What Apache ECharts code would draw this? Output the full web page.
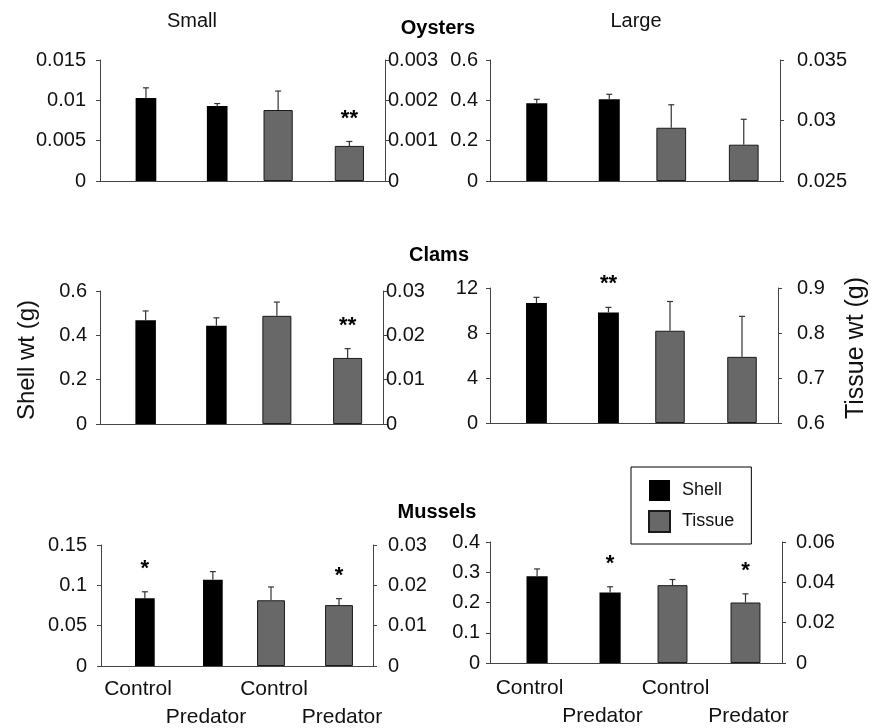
<!DOCTYPE html>
<html>
<head>
<meta charset="utf-8">
<script src="https://cdn.jsdelivr.net/npm/echarts@6/dist/echarts.min.js"></script>
<style>
  html, body { margin: 0; padding: 0; background: #fff; }
  #chart { width: 883px; height: 728px; }
</style>
</head>
<body>
<div id="chart"></div>
<script>
// ---- data -------------------------------------------------------------
const categories = ['Control', 'Predator', 'Control', 'Predator'];
const seriesNames = ['Shell', 'Tissue'];

// Oysters, small size class
const oystersSmallShell = [0.0103, 0.0093];
const oystersSmallShellErr = [0.00125, 0.0003];
const oystersSmallTissue = [0.00176, 0.00087];
const oystersSmallTissueErr = [0.00047, 0.00011];
const oystersSmallSig = ['', '', '', '**'];
const oystersSmallShellAxis = [0, 0.015, 0.005];
const oystersSmallTissueAxis = [0, 0.003, 0.001];

// Oysters, large size class
const oystersLargeShell = [0.385, 0.405];
const oystersLargeShellErr = [0.02, 0.025];
const oystersLargeTissue = [0.0294, 0.0280];
const oystersLargeTissueErr = [0.0019, 0.0021];
const oystersLargeSig = ['', '', '', ''];
const oystersLargeShellAxis = [0, 0.6, 0.2];
const oystersLargeTissueAxis = [0.025, 0.035, 0.005];

// Clams, small size class
const clamsSmallShell = [0.468, 0.443];
const clamsSmallShellErr = [0.042, 0.036];
const clamsSmallTissue = [0.0244, 0.0149];
const clamsSmallTissueErr = [0.0031, 0.0021];
const clamsSmallSig = ['', '', '', '**'];
const clamsSmallShellAxis = [0, 0.6, 0.2];
const clamsSmallTissueAxis = [0, 0.03, 0.01];

// Clams, large size class
const clamsLargeShell = [10.67, 9.83];
const clamsLargeShellErr = [0.5, 0.45];
const clamsLargeTissue = [0.805, 0.747];
const clamsLargeTissueErr = [0.065, 0.09];
const clamsLargeSig = ['', '**', '', ''];
const clamsLargeShellAxis = [0, 12, 4];
const clamsLargeTissueAxis = [0.6, 0.9, 0.1];

// Mussels, small size class
const musselsSmallShell = [0.084, 0.107];
const musselsSmallShellErr = [0.008, 0.01];
const musselsSmallTissue = [0.0163, 0.0151];
const musselsSmallTissueErr = [0.0033, 0.0016];
const musselsSmallSig = ['*', '', '', '*'];
const musselsSmallShellAxis = [0, 0.15, 0.05];
const musselsSmallTissueAxis = [0, 0.03, 0.01];

// Mussels, large size class
const musselsLargeShell = [0.287, 0.233];
const musselsLargeShellErr = [0.024, 0.019];
const musselsLargeTissue = [0.0386, 0.030];
const musselsLargeTissueErr = [0.0028, 0.0043];
const musselsLargeSig = ['', '*', '', '*'];
const musselsLargeShellAxis = [0, 0.4, 0.1];
const musselsLargeTissueAxis = [0, 0.06, 0.02];

// ---- layout & style ---------------------------------------------------
const FONT = '"Liberation Sans", Arial, Helvetica, sans-serif';
const AXIS_COLOR = '#444';
const TEXT_COLOR = '#111';
const SHELL_COLOR = '#000';
const TISSUE_COLOR = '#686868';
const SHELL_W = 0.29;   // shell bar width, share of the category band
const TISSUE_W = 0.41;  // tissue bar width, share of the category band

const panels = [
  { shell: oystersSmallShell, shellErr: oystersSmallShellErr, tissue: oystersSmallTissue, tissueErr: oystersSmallTissueErr,
    sig: oystersSmallSig, shellAxis: oystersSmallShellAxis, tissueAxis: oystersSmallTissueAxis,
    box: { left: 100, top: 60, width: 285, height: 121 }, lm: 14, rm: 3, labels: false },
  { shell: oystersLargeShell, shellErr: oystersLargeShellErr, tissue: oystersLargeTissue, tissueErr: oystersLargeTissueErr,
    sig: oystersLargeSig, shellAxis: oystersLargeShellAxis, tissueAxis: oystersLargeTissueAxis,
    box: { left: 490, top: 60, width: 290, height: 121 }, lm: 12, rm: 17, labels: false },
  { shell: clamsSmallShell, shellErr: clamsSmallShellErr, tissue: clamsSmallTissue, tissueErr: clamsSmallTissueErr,
    sig: clamsSmallSig, shellAxis: clamsSmallShellAxis, tissueAxis: clamsSmallTissueAxis,
    box: { left: 100, top: 291, width: 283, height: 133 }, lm: 13, rm: 3, labels: false },
  { shell: clamsLargeShell, shellErr: clamsLargeShellErr, tissue: clamsLargeTissue, tissueErr: clamsLargeTissueErr,
    sig: clamsLargeSig, shellAxis: clamsLargeShellAxis, tissueAxis: clamsLargeTissueAxis,
    box: { left: 490, top: 288, width: 288, height: 135 }, lm: 12, rm: 19, labels: false },
  { shell: musselsSmallShell, shellErr: musselsSmallShellErr, tissue: musselsSmallTissue, tissueErr: musselsSmallTissueErr,
    sig: musselsSmallSig, shellAxis: musselsSmallShellAxis, tissueAxis: musselsSmallTissueAxis,
    box: { left: 101, top: 545, width: 272, height: 121 }, lm: 14, rm: 15, labels: true, xm: 9 },
  { shell: musselsLargeShell, shellErr: musselsLargeShellErr, tissue: musselsLargeTissue, tissueErr: musselsLargeTissueErr,
    sig: musselsLargeSig, shellAxis: musselsLargeShellAxis, tissueAxis: musselsLargeTissueAxis,
    box: { left: 490, top: 542, width: 292, height: 121 }, lm: 10, rm: 14, labels: true, xm: 11 }
];

// Upward error bars with optional significance stars, drawn at the bar centre.
function errorBars(shift, sig) {
  return function (params, api) {
    const idx = api.value(0);
    const mean = api.value(1);
    const err = api.value(2);
    const band = api.size([1, 0])[0];
    const base = api.coord([idx, mean]);
    const top = api.coord([idx, mean + err]);
    const x = base[0] + band * shift;
    const line = { stroke: '#333', lineWidth: 1.2 };
    const children = [
      { type: 'line', shape: { x1: x, y1: base[1], x2: x, y2: top[1] }, style: line },
      { type: 'line', shape: { x1: x - 3, y1: top[1], x2: x + 3, y2: top[1] }, style: line }
    ];
    if (sig[idx]) {
      children.push({
        type: 'text', x: x, y: top[1] - 23,
        style: { text: sig[idx], font: 'bold 22px ' + FONT, fill: '#000', align: 'center', verticalAlign: 'middle' }
      });
    }
    return { type: 'group', children: children };
  };
}

function valueAxis(gridIndex, range, position, margin) {
  return {
    type: 'value', gridIndex: gridIndex, position: position,
    min: range[0], max: range[1], interval: range[2], startValue: range[0],
    axisLine: { show: true, lineStyle: { color: AXIS_COLOR, width: 1 } },
    axisTick: { show: true, inside: false, length: 4, lineStyle: { color: AXIS_COLOR } },
    splitLine: { show: false },
    axisLabel: { show: true, margin: margin, fontSize: 20, color: TEXT_COLOR, fontFamily: FONT,
                 showMinLabel: true, showMaxLabel: true, hideOverlap: false }
  };
}

const option = {
  animation: false,
  backgroundColor: '#fff',
  textStyle: { fontFamily: FONT },
  grid: [], xAxis: [], yAxis: [], series: [],
  legend: {
    data: seriesNames, orient: 'vertical', left: 631, top: 467,
    padding: [13, 17, 11, 17], itemWidth: 21, itemHeight: 21, itemGap: 9, icon: 'rect',
    borderColor: '#000', borderWidth: 1, backgroundColor: '#fff', selectedMode: false,
    textStyle: { fontSize: 18, color: TEXT_COLOR, fontFamily: FONT, padding: [0, 0, 0, 7] }
  },
  graphic: [
    { type: 'text', x: 192, y: 21, style: { text: 'Small', font: '20px ' + FONT, fill: TEXT_COLOR, align: 'center', verticalAlign: 'middle' } },
    { type: 'text', x: 636, y: 21, style: { text: 'Large', font: '20px ' + FONT, fill: TEXT_COLOR, align: 'center', verticalAlign: 'middle' } },
    { type: 'text', x: 438, y: 28, style: { text: 'Oysters', font: 'bold 20px ' + FONT, fill: '#000', align: 'center', verticalAlign: 'middle' } },
    { type: 'text', x: 439, y: 255, style: { text: 'Clams', font: 'bold 20px ' + FONT, fill: '#000', align: 'center', verticalAlign: 'middle' } },
    { type: 'text', x: 437, y: 512, style: { text: 'Mussels', font: 'bold 20px ' + FONT, fill: '#000', align: 'center', verticalAlign: 'middle' } },
    { type: 'text', x: 27, y: 360, rotation: Math.PI / 2, style: { text: 'Shell wt (g)', font: '24px ' + FONT, fill: TEXT_COLOR, align: 'center', verticalAlign: 'middle' } },
    { type: 'text', x: 856, y: 348, rotation: Math.PI / 2, style: { text: 'Tissue wt (g)', font: '25px ' + FONT, fill: TEXT_COLOR, align: 'center', verticalAlign: 'middle' } }
  ]
};

panels.forEach(function (p, i) {
  option.grid.push(Object.assign({ containLabel: false, outerBoundsMode: 'none' }, p.box));

  const xa = option.xAxis.length;
  // visible category axis (tissue bars sit on the category centre)
  option.xAxis.push({
    type: 'category', gridIndex: i, data: categories, position: 'bottom',
    axisLine: { show: true, lineStyle: { color: AXIS_COLOR, width: 1 } },
    axisTick: { show: false },
    axisLabel: p.labels ? {
      show: true, interval: 0, margin: p.xm, fontSize: 21, lineHeight: 28, color: TEXT_COLOR, fontFamily: FONT,
      padding: [0, 0, 0, 6],
      formatter: function (v, k) { return k % 2 ? '\n' + v : v; }
    } : { show: false }
  });
  // hidden twin axis for the shell bars, laid out with a spacer column
  option.xAxis.push({ type: 'category', gridIndex: i, data: categories, show: false });

  const ya = option.yAxis.length;
  option.yAxis.push(valueAxis(i, p.shellAxis, 'left', p.lm));
  option.yAxis.push(valueAxis(i, p.tissueAxis, 'right', p.rm));

  option.series.push({
    type: 'bar', xAxisIndex: xa + 1, yAxisIndex: ya, silent: true,
    data: categories.map(function () { return '-'; }),
    barWidth: (SHELL_W * 100) + '%', barGap: '0%', itemStyle: { color: 'transparent' }
  });
  option.series.push({
    name: 'Shell', type: 'bar', xAxisIndex: xa + 1, yAxisIndex: ya,
    data: [p.shell[0], p.shell[1], '-', '-'],
    barWidth: (SHELL_W * 100) + '%', barGap: '0%',
    itemStyle: { color: SHELL_COLOR, borderColor: SHELL_COLOR, borderWidth: 0 }
  });
  option.series.push({
    name: 'Tissue', type: 'bar', xAxisIndex: xa, yAxisIndex: ya + 1, clip: true,
    data: ['-', '-', p.tissue[0], p.tissue[1]],
    barWidth: (TISSUE_W * 100) + '%',
    itemStyle: { color: TISSUE_COLOR, borderColor: '#1a1a1a', borderWidth: 1 }
  });
  option.series.push({
    type: 'custom', xAxisIndex: xa + 1, yAxisIndex: ya, z: 5, silent: true,
    data: [[0, p.shell[0], p.shellErr[0]], [1, p.shell[1], p.shellErr[1]]],
    renderItem: errorBars(SHELL_W / 2, p.sig)
  });
  option.series.push({
    type: 'custom', xAxisIndex: xa, yAxisIndex: ya + 1, z: 5, silent: true,
    data: [[2, p.tissue[0], p.tissueErr[0]], [3, p.tissue[1], p.tissueErr[1]]],
    renderItem: errorBars(0, p.sig)
  });
});

const chart = echarts.init(document.getElementById('chart'), null, { renderer: 'canvas' });
chart.setOption(option);
</script>
</body>
</html>
